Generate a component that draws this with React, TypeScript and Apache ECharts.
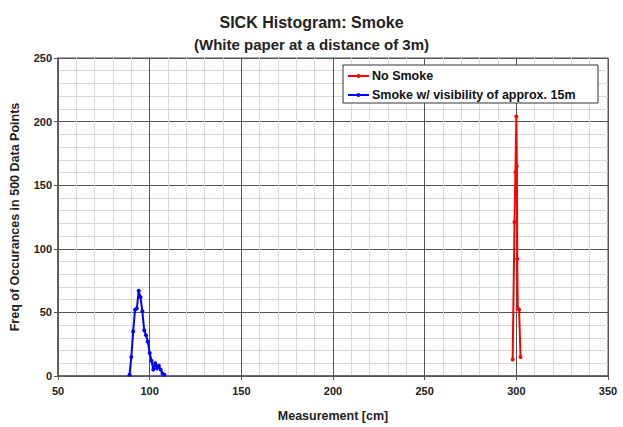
import React, { useEffect, useRef } from "react";
import * as echarts from "echarts";

const titleLines = ["SICK Histogram: Smoke", "(White paper at a distance of 3m)"];
const xAxisName = "Measurement [cm]";
const yAxisName = "Freq of Occurances in 500 Data Points";

const noSmokeName = "No Smoke";
const noSmokeX = [298, 299, 299.5, 300, 300.3, 300.5, 300.8, 301.5, 302.3];
const noSmokeY = [13, 121, 160, 204, 165, 92, 53, 52, 15];

const smokeName = "Smoke w/ visibility of approx. 15m";
const smokeX = [89, 90, 91, 92, 93, 94, 95, 96, 97, 98, 99, 100, 101, 102, 103, 104, 105, 106, 107, 108];
const smokeY = [1, 15, 35, 52, 53, 67, 62, 51, 36, 32, 27, 18, 12, 5, 10, 6, 8, 5, 2, 1];

export default function App() {
  const ref = useRef<HTMLDivElement>(null);
  useEffect(() => {
    if (!ref.current) return;
    const chart = echarts.init(ref.current, null, { renderer: "svg" });
    const font = "'Liberation Sans', Arial, sans-serif";
    chart.setOption({
      animation: false,
      backgroundColor: "#ffffff",
      textStyle: { fontFamily: font },
      title: {
        text: "{a|" + titleLines[0] + "}\n{b|" + titleLines[1] + "}",
        left: "center",
        top: 6,
        textStyle: {
          fontFamily: font,
          rich: {
            a: { fontSize: 16, fontWeight: "bold", color: "#222", lineHeight: 22, fontFamily: font },
            b: { fontSize: 15, fontWeight: "bold", color: "#222", lineHeight: 22, fontFamily: font },
          },
        },
      },
      grid: {
        left: 55,
        right: 15,
        top: 58,
        bottom: 45,
        show: true,
        borderColor: "#555",
        borderWidth: 1,
      },
      legend: {
        orient: "vertical",
        left: 347,
        top: 69,
        z: 10,
        itemGap: 5,
        itemWidth: 21,
        itemHeight: 5,
        padding: 0,
        textStyle: { fontSize: 12.5, fontWeight: "bold", color: "#111", fontFamily: font, lineHeight: 14, padding: [0, 0, 0, -2] },
        data: [noSmokeName, smokeName],
      },
      graphic: [
        {
          type: "rect",
          shape: { x: 343, y: 65, width: 255, height: 38 },
          style: { fill: "#ffffff", stroke: "#333", lineWidth: 1 },
          z: 5,
        },
      ],
      xAxis: {
        type: "value",
        min: 50,
        max: 350,
        interval: 50,
        name: xAxisName,
        nameLocation: "middle",
        nameGap: 33,
        nameTextStyle: { fontSize: 12.5, fontWeight: "bold", color: "#222" },
        axisLine: { show: true, lineStyle: { color: "#555", width: 1.5 } },
        axisTick: { show: true, length: 4, lineStyle: { color: "#555" } },
        axisLabel: { fontSize: 11, fontWeight: "bold", color: "#222", margin: 9 },
        splitLine: { show: true, lineStyle: { color: "#555", width: 1 } },
        minorTick: { show: false, splitNumber: 5 },
        minorSplitLine: { show: true, lineStyle: { color: "#d8d8d8", width: 1 } },
      },
      yAxis: {
        type: "value",
        min: 0,
        max: 250,
        interval: 50,
        name: yAxisName,
        nameLocation: "middle",
        nameGap: 37,
        nameTextStyle: { fontSize: 12.5, fontWeight: "bold", color: "#222" },
        axisLine: { show: true, lineStyle: { color: "#555", width: 1.5 } },
        axisTick: { show: true, length: 4, lineStyle: { color: "#555" } },
        axisLabel: { fontSize: 11, fontWeight: "bold", color: "#222", margin: 6 },
        splitLine: { show: true, lineStyle: { color: "#555", width: 1 } },
        minorTick: { show: false, splitNumber: 5 },
        minorSplitLine: { show: true, lineStyle: { color: "#d8d8d8", width: 1 } },
      },
      series: [
        {
          name: noSmokeName,
          type: "line",
          data: noSmokeX.map((x, i) => [x, noSmokeY[i]]),
          color: "#ff0000",
          lineStyle: { width: 2, color: "#ff0000" },
          symbol: "circle",
          symbolSize: 4,
          itemStyle: { color: "#ff0000" },
          z: 3,
        },
        {
          name: smokeName,
          type: "line",
          data: smokeX.map((x, i) => [x, smokeY[i]]),
          color: "#0000ff",
          lineStyle: { width: 2, color: "#0000ff" },
          symbol: "circle",
          symbolSize: 4,
          itemStyle: { color: "#0000ff" },
          z: 3,
        },
      ],
    });
    return () => chart.dispose();
  }, []);
  return <div ref={ref} style={{ width: 623, height: 427, position: "absolute", left: 0, top: 0 }} />;
}
